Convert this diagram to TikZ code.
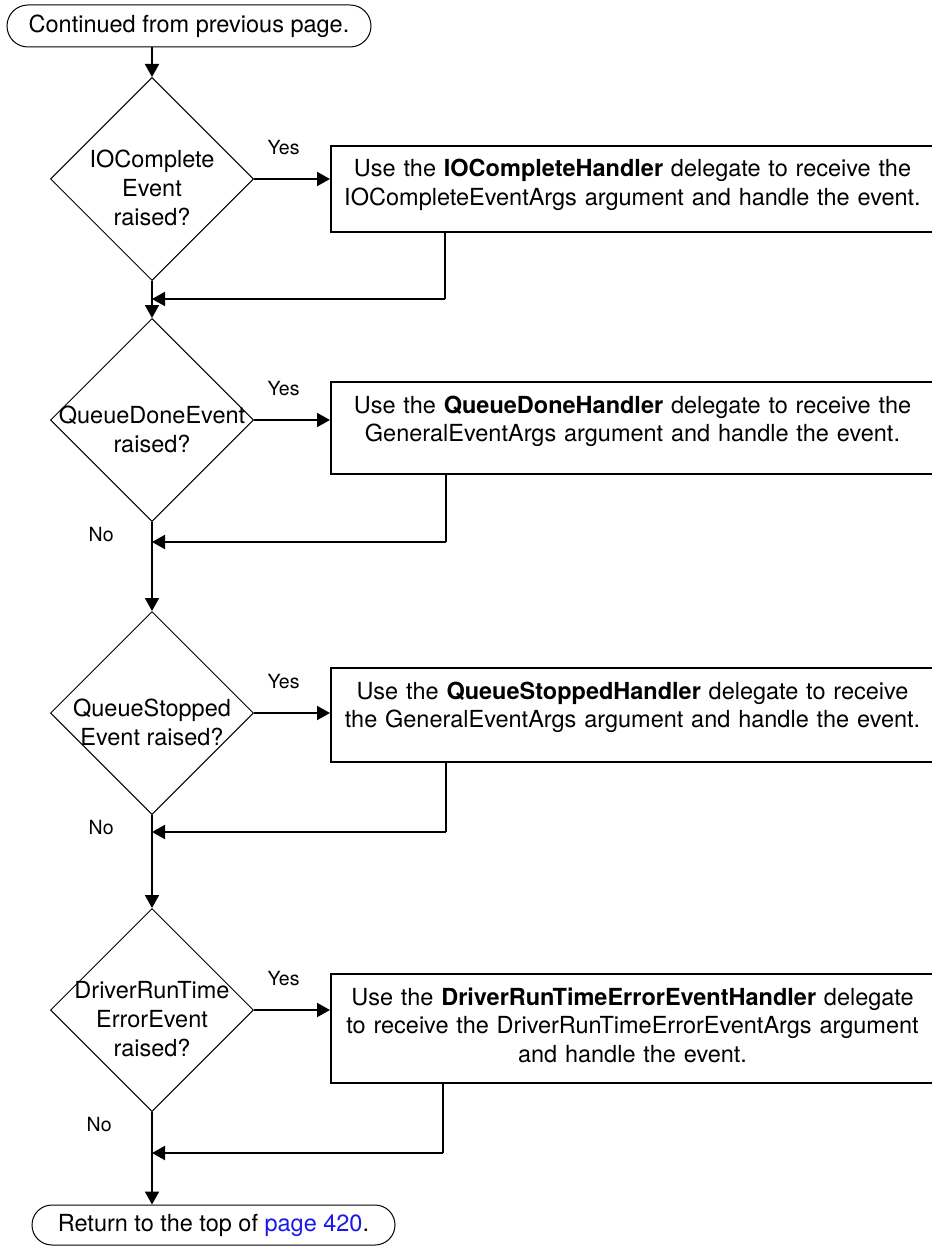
\documentclass[tikz,border=0pt]{standalone}
\usepackage{fontspec}
\setmainfont{TeX Gyre Heros}
\usetikzlibrary{shapes.geometric, shapes.misc, arrows.meta}
\newcommand{\bodyFont}{\fontsize{23.5}{28.8}\selectfont}
\newcommand{\answerFont}{\fontsize{19.5}{22}\selectfont}
\definecolor{linkColor}{RGB}{25,25,235}
\tikzstyle{chart} = [x = 1pt, y = -1pt]
\tikzstyle{flowLine} = [draw, line width = 2pt, -{Triangle[length = 13pt, width = 14pt]}]
\tikzstyle{plainLine} = [draw, line width = 2pt]
\tikzstyle{decisionStyle} = [diamond, draw, line width = 1pt, minimum width = 203pt, minimum height = 203pt, inner sep = 0pt]
\tikzstyle{decisionText} = [font = \bodyFont, align = center, yshift = -9pt]
\tikzstyle{handlerStyle} = [rectangle, draw, line width = 2pt, anchor = north west, minimum width = 603pt, text width = 598pt, inner xsep = 2.5pt, inner ysep = 0pt, text height = 31pt, align = center, font = \bodyFont]
\tikzstyle{terminalStyle} = [rounded rectangle, draw, line width = 1pt, inner sep = 0pt, font = \bodyFont]
\tikzstyle{answerText} = [font = \answerFont]
\newcommand{\decision}[3]{\node [decisionStyle, label = {[decisionText]center:{#3}}] (#1) at (152, #2) {};}
\newcommand{\handler}[4]{\node [handlerStyle, text depth = #3] (#1) at (330, #2) {#4};}
\newcommand{\yesBranch}[2]{\draw [flowLine] (#1.east) -- node [answerText, pos = .39, yshift = 31pt] {Yes} (#1.east -| #2.west);}
\newcommand{\backBranch}[4]{
  \coordinate (#2Corner) at (#3, #4);
  \draw [plainLine] (#2Corner |- #2.south) -- (#2Corner);
  \draw [flowLine] (#2Corner) -- (#2Corner -| #1.south);
}

\begin{document}
\begin{tikzpicture}[chart]
  \useasboundingbox (0, 0) rectangle (931, 1246);
  \node [terminalStyle, minimum width = 364pt, minimum height = 42pt] (start) at (189, 26) {Continued from previous page.};
  \node [terminalStyle, minimum width = 363pt, minimum height = 40pt] (finish) at (213.5, 1225) {Return to the top of \textcolor{linkColor}{page 420}.};

  \decision{ioComplete}{179}{IOComplete\\Event\\raised?}
  \decision{queueDone}{420}{QueueDoneEvent\\raised?}
  \decision{queueStopped}{713}{QueueStopped\\Event raised?}
  \decision{driverError}{1010}{DriverRunTime\\ErrorEvent\\raised?}

  \handler{ioHandler}{145}{55.5pt}{Use the \textbf{IOCompleteHandler} delegate to receive the\\IOCompleteEventArgs argument and handle the event.}
  \handler{doneHandler}{381}{61pt}{Use the \textbf{QueueDoneHandler} delegate to receive the\\GeneralEventArgs argument and handle the event.}
  \handler{stoppedHandler}{667}{63pt}{Use the \textbf{QueueStoppedHandler} delegate to receive\\the GeneralEventArgs argument and handle the event.}
  \handler{errorHandler}{973}{78pt}{Use the \textbf{DriverRunTimeErrorEventHandler} delegate\\to receive the DriverRunTimeErrorEventArgs argument\\and handle the event.}

  \draw [flowLine] (start.south -| ioComplete.north) -- (ioComplete.north);
  \draw [flowLine] (ioComplete.south) -- (queueDone.north);
  \draw [flowLine] (queueDone.south) -- node [answerText, pos = .14, left = 34pt] {No} (queueStopped.north);
  \draw [flowLine] (queueStopped.south) -- node [answerText, pos = .14, left = 34pt] {No} (driverError.north);
  \draw [flowLine] (driverError.south) -- node [answerText, pos = .13, left = 36pt] {No} (finish.north -| driverError.south);

  \yesBranch{ioComplete}{ioHandler}
  \yesBranch{queueDone}{doneHandler}
  \yesBranch{queueStopped}{stoppedHandler}
  \yesBranch{driverError}{errorHandler}

  \backBranch{ioComplete}{ioHandler}{445}{299}
  \backBranch{queueDone}{doneHandler}{446}{542}
  \backBranch{queueStopped}{stoppedHandler}{446}{832}
  \backBranch{driverError}{errorHandler}{443}{1153}
\end{tikzpicture}
\end{document}
